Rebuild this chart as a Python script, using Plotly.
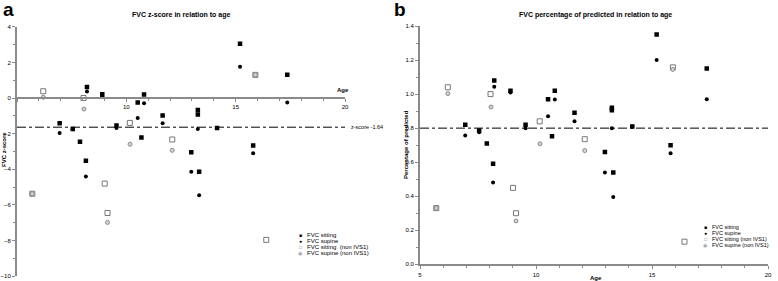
import plotly.graph_objects as go

# ---------------- data ----------------
sitting_age = [6.95, 7.55, 8.2, 8.9, 9.55, 10.52, 10.81, 10.69, 11.66, 13.27, 13.27,
               15.2, 17.36, 14.15, 7.88, 12.97, 8.15, 13.33, 15.8]
sitting_z = [-1.42, -1.74, 0.62, 0.21, -1.55, -0.25, 0.19, -2.22, -0.99, -0.68, -0.93,
             3.05, 1.3, -1.69, -2.46, -3.05, -3.52, -4.15, -2.67]
sitting_pct = [0.82, 0.786, 1.08, 1.02, 0.82, 0.97, 1.02, 0.753, 0.89, 0.92, 0.905,
               1.35, 1.15, 0.81, 0.71, 0.66, 0.59, 0.54, 0.70]

supine_age = [6.95, 7.55, 8.2, 8.9, 9.55, 10.52, 10.81, 11.66, 13.27, 15.2, 17.36,
              14.15, 8.15, 12.97, 13.33, 15.8]
supine_z = [-1.97, -1.76, 0.36, 0.1, -1.69, -1.12, -0.3, -1.42, -1.74, 1.76, -0.25,
            -1.69, -4.41, -4.15, -5.47, -3.1]
supine_pct = [0.757, 0.776, 1.043, 1.01, 0.8, 0.87, 0.968, 0.84, 0.8, 1.2, 0.97,
              0.81, 0.48, 0.54, 0.396, 0.653]

nonivs_sit_age = [5.7, 6.2, 8.04, 9.01, 9.14, 10.16, 12.1, 15.9, 16.4]
nonivs_sit_z = [-5.38, 0.38, 0.0, -4.81, -6.46, -1.4, -2.33, 1.3, -7.97]
nonivs_sit_pct = [0.33, 1.04, 1.0, 0.449, 0.30, 0.84, 0.735, 1.157, 0.133]

nonivs_sup_age = [5.7, 6.2, 8.06, 9.14, 10.17, 12.1, 15.9]
nonivs_sup_z = [-5.38, 0.04, -0.62, -6.99, -2.6, -2.94, 1.3]
nonivs_sup_pct = [0.33, 1.003, 0.924, 0.255, 0.708, 0.668, 1.145]

z_cutoff = -1.64
pct_cutoff = 0.8

series_names = ["FVC sitting", "FVC supine", "FVC sitting  (non IVS1)", "FVC supine (non IVS1)"]
series_names_b = ["FVC sitting", "FVC supine", "FVC sitting (non IVS1)", "FVC supine (non IVS1)"]

# ---------------- figure ----------------
W, H = 778, 281
FONT = "Liberation Sans, Arial, sans-serif"
GRAY = "#8a8a8a"

def px(x):
    return x / W

def py(y):
    return 1 - y / H

styles = [
    dict(symbol="square", size=4.5, color="black"),
    dict(symbol="circle", size=4, color="black"),
    dict(symbol="square-open", size=5, color="#777777", line=dict(width=1, color="#777777")),
    dict(symbol="circle", size=4, color="#d4d4d4", line=dict(width=1, color="#8a8a8a")),
]

fig = go.Figure()
panel_a = [(sitting_age, sitting_z), (supine_age, supine_z),
           (nonivs_sit_age, nonivs_sit_z), (nonivs_sup_age, nonivs_sup_z)]
panel_b = [(sitting_age, sitting_pct), (supine_age, supine_pct),
           (nonivs_sit_age, nonivs_sit_pct), (nonivs_sup_age, nonivs_sup_pct)]

for (xs, ys), st, nm in zip(panel_a, styles, series_names):
    fig.add_trace(go.Scatter(x=xs, y=ys, mode="markers", marker=st, name=nm,
                             showlegend=False, xaxis="x", yaxis="y"))
for (xs, ys), st, nm in zip(panel_b, styles, series_names_b):
    fig.add_trace(go.Scatter(x=xs, y=ys, mode="markers", marker=st, name=nm,
                             showlegend=False, xaxis="x2", yaxis="y2"))

tickfont = dict(family=FONT, size=6, color="black")
common = dict(showgrid=False, zeroline=False, showline=True, linecolor=GRAY, linewidth=2,
              ticks="outside", ticklen=3, tickwidth=1, tickcolor=GRAY, tickfont=tickfont,
              automargin=False)

fig.update_layout(
    width=W, height=H, margin=dict(l=0, r=0, t=0, b=0),
    paper_bgcolor="white", plot_bgcolor="white",
    font=dict(family=FONT, size=6, color="black"),
    xaxis=dict(domain=[px(17), px(345)], range=[5, 20], anchor="free", position=py(98),
               tickmode="array", tickvals=[5, 10, 15, 20], ticktext=["", "10", "15", "20"],
               minor=dict(tickmode="linear", tick0=5, dtick=1, ticks="outside", ticklen=2,
                          tickcolor=GRAY),
               **common),
    yaxis=dict(domain=[py(276), py(26.8)], range=[-10, 4], anchor="x",
               tickmode="linear", tick0=0, dtick=2,
               minor=dict(tickmode="linear", tick0=0, dtick=1, ticks="outside", ticklen=2,
                          tickcolor=GRAY),
               **common),
    xaxis2=dict(domain=[px(420), px(768)], range=[5, 20], anchor="y2",
                tickmode="array", tickvals=[5, 10, 15, 20],
                minor=dict(tickmode="linear", tick0=5, dtick=1, ticks="outside", ticklen=2,
                           tickcolor=GRAY),
                **common),
    yaxis2=dict(domain=[py(264.3), py(26)], range=[0, 1.4], anchor="x2",
                tickmode="linear", tick0=0, dtick=0.2, tickformat=".1f",
                minor=dict(tickmode="linear", tick0=0, dtick=0.1, ticks="outside", ticklen=2,
                           tickcolor=GRAY),
                **common),
)

# cutoff lines
fig.add_shape(type="line", xref="x", yref="y", x0=5, x1=20, y0=z_cutoff, y1=z_cutoff,
              line=dict(color="black", width=1, dash="dashdot"))
fig.add_shape(type="line", xref="x2", yref="y2", x0=5, x1=20, y0=pct_cutoff, y1=pct_cutoff,
              line=dict(color="black", width=1, dash="dashdot"))

def ann(text, x, y, size=6, bold=False, xanchor="center", yanchor="middle", angle=0, color="black"):
    t = f"<b>{text}</b>" if bold else text
    fig.add_annotation(text=t, x=x, y=y, xref="paper", yref="paper", showarrow=False,
                       xanchor=xanchor, yanchor=yanchor, textangle=angle,
                       font=dict(family=FONT, size=size, color=color))

# panel letters and titles
ann("a", px(1), py(10), size=19, bold=True, xanchor="left")
ann("b", px(392), py(10), size=19, bold=True, xanchor="left")
ann("FVC z-score in relation to age", px(181), py(15), size=7, bold=True)
ann("FVC percentage of predicted in relation to age", px(595), py(15), size=7, bold=True)

# axis titles
ann("FVC z-score", px(4), py(150), size=6, bold=True, angle=-90)
ann("Percentage of predicted", px(406), py(145), size=6, bold=True, angle=-90)
ann("Age", px(343), py(90), size=6, bold=True)
ann("Age", px(596), py(278), size=6, bold=True)

# cutoff label
fig.add_annotation(text="z-score -1.64", x=20, y=z_cutoff, xref="x", yref="y", showarrow=False,
                   xanchor="left", xshift=4, font=dict(family=FONT, size=5.5, color="black"))

# legends (text-based)
glyphs = [("■", "black"), ("●", "black"), ("□", "#808080"), ("◉", "#a0a0a0")]
leg_a_y = [235, 241, 247, 253]
leg_b_y = [227, 233, 239, 245]
for (g, c), nm, ya in zip(glyphs, series_names, leg_a_y):
    ann(g, px(300), py(ya), size=5, color=c)
    ann(nm, px(305), py(ya), size=6, xanchor="left")
for (g, c), nm, yb in zip(glyphs, series_names_b, leg_b_y):
    ann(g, px(705.5), py(yb), size=5, color=c)
    ann(nm, px(710), py(yb), size=5.5, xanchor="left")

fig.write_html("out.html", config={"displayModeBar": False},
               post_script="document.body.style.margin='0';")
